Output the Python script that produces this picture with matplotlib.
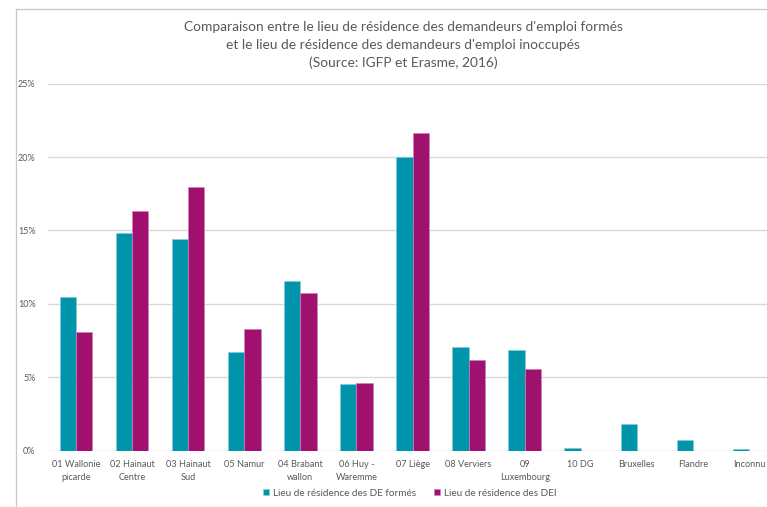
import matplotlib
matplotlib.use("Agg")
import matplotlib.pyplot as plt
import numpy as np
from matplotlib.ticker import PercentFormatter
from matplotlib.lines import Line2D

categories = ["01 Wallonie\npicarde", "02 Hainaut\nCentre", "03 Hainaut\nSud", "05 Namur",
              "04 Brabant\nwallon", "06 Huy -\nWaremme", "07 Liège", "08 Verviers",
              "09\nLuxembourg", "10 DG", "Bruxelles", "Flandre", "Inconnu"]
de_formes = [10.45, 14.83, 14.39, 6.72, 11.57, 4.55, 20.03, 7.09, 6.88, 0.20, 1.83, 0.73, 0.09]
dei = [8.10, 16.34, 17.95, 8.26, 10.77, 4.62, 21.62, 6.16, 5.57, 0, 0, 0, 0]
series_names = ["Lieu de résidence des DE formés", "Lieu de résidence des DEI"]
title = ("Comparaison entre le lieu de résidence des demandeurs d'emploi formés\n"
         "et le lieu de résidence des demandeurs d'emploi inoccupés\n"
         "(Source: IGFP et Erasme, 2016)")

plt.rcParams['font.family'] = ['Lato', 'DejaVu Sans']
TEAL = "#0095AB"
PURPLE = "#A0106F"
GRAY = "#595959"

W, H = 767, 507
fig = plt.figure(figsize=(W / 100, H / 100), dpi=100)
fig.patch.set_facecolor("white")

# outer chart frame (top and left edges visible)
fig.add_artist(Line2D([16 / W, 16 / W], [0, 1 - 9 / H], transform=fig.transFigure, color="#C8C8C8", lw=0.9))
fig.add_artist(Line2D([16 / W, 1], [1 - 9 / H, 1 - 9 / H], transform=fig.transFigure, color="#C8C8C8", lw=0.9))

left_px, right_px = 48, 777
bottom_px, top_px = 450.7, 83.7
ax = fig.add_axes([left_px / W, (H - bottom_px) / H, (right_px - left_px) / W, (bottom_px - top_px) / H])

x = np.arange(len(categories))
w = 0.29
ax.bar(x - w / 2, np.array(de_formes) / 100, width=w, color=TEAL, edgecolor="#7FCFDB", linewidth=0.4, zorder=3,
       label=series_names[0])
ax.bar(x + w / 2, np.array(dei) / 100, width=w, color=PURPLE, edgecolor="#D27FB5", linewidth=0.4, zorder=3,
       label=series_names[1])

ax.set_xlim(-0.5, len(categories) - 0.5)
ax.set_ylim(0, 0.25)
ax.set_yticks(np.arange(0, 0.26, 0.05))
ax.yaxis.set_major_formatter(PercentFormatter(1.0, decimals=0))
ax.grid(axis="y", color="#D9D9D9", lw=1.0, zorder=0)
for s in ax.spines.values():
    s.set_visible(False)
ax.tick_params(axis="y", length=0, pad=9, labelsize=6.5, labelcolor=GRAY)
ax.set_xticks(x)
ax.set_xticklabels(categories, fontsize=6.6, color=GRAY, linespacing=1.55)
ax.tick_params(axis="x", length=0, pad=6.5)

fig.text(403 / W, 1 - 21 / H, title, ha="center", va="top", fontsize=9.9, color=GRAY, linespacing=1.58)

leg = fig.legend(loc="center", bbox_to_anchor=(410 / W, 1 - 493 / H), ncol=2, frameon=False,
                 fontsize=7.2, handlelength=0.6, handleheight=0.6, handletextpad=0.4, columnspacing=1.8)
for t in leg.get_texts():
    t.set_color(GRAY)

fig.savefig("out.png", dpi=100)
